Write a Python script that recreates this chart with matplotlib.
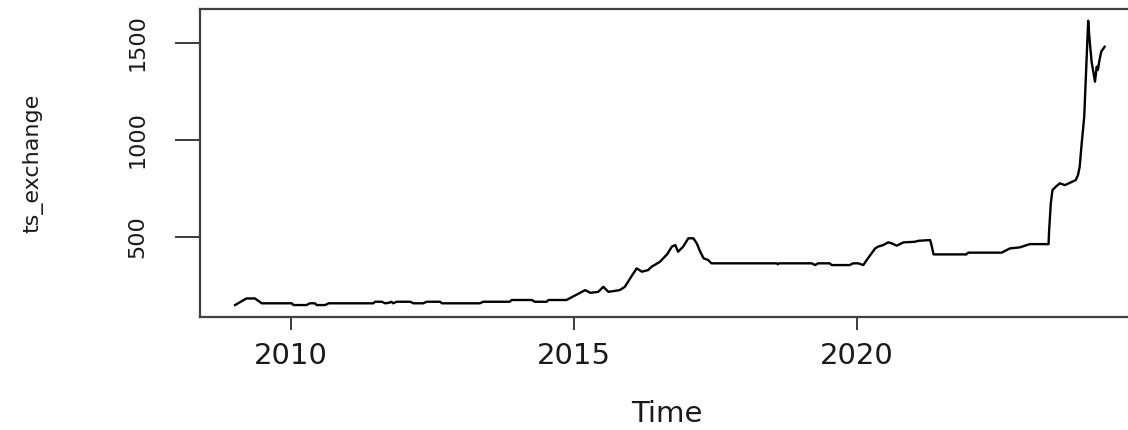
#! /usr/bin/env python

# imports of external packages to use in our code
import numpy as np
import matplotlib
matplotlib.use("Agg")
import matplotlib.pyplot as plt

# values (decimal year, exchange rate)
time = [2009.02, 2009.22, 2009.37, 2009.49, 2010.02, 2010.05, 2010.28, 2010.34,
        2010.43, 2010.46, 2010.61, 2010.67, 2011.46, 2011.49, 2011.61, 2011.67,
        2011.74, 2011.78, 2011.81, 2011.87, 2012.11, 2012.17, 2012.34, 2012.40,
        2012.64, 2012.67, 2013.34, 2013.40, 2013.87, 2013.90, 2014.26, 2014.31,
        2014.52, 2014.55, 2014.87, 2015.20, 2015.29, 2015.43, 2015.52, 2015.61,
        2015.81, 2015.90, 2016.05, 2016.11, 2016.20, 2016.31, 2016.37, 2016.52,
        2016.65, 2016.73, 2016.79, 2016.84, 2016.93, 2017.02, 2017.11, 2017.17,
        2017.23, 2017.29, 2017.37, 2017.43, 2018.58, 2018.60, 2018.62, 2019.20,
        2019.26, 2019.31, 2019.52, 2019.55, 2019.87, 2019.93, 2020.02, 2020.11,
        2020.17, 2020.32, 2020.37, 2020.46, 2020.55, 2020.61, 2020.70, 2020.82,
        2021.02, 2021.08, 2021.29, 2021.32, 2021.35, 2021.93, 2021.96, 2022.55,
        2022.70, 2022.87, 2023.05, 2023.38, 2023.39, 2023.42, 2023.45, 2023.52,
        2023.58, 2023.67, 2023.86, 2023.90, 2023.93, 2023.96, 2024.01, 2024.05,
        2024.08, 2024.10, 2024.14, 2024.20, 2024.23, 2024.25, 2024.28, 2024.31,
        2024.37]
ts_exchange = [148, 182, 182, 157, 157, 148, 148, 157,
               157, 148, 148, 157, 157, 165, 165, 157,
               160, 165, 157, 165, 165, 157, 157, 165,
               165, 157, 157, 165, 165, 174, 174, 165,
               165, 174, 174, 225, 211, 216, 242, 216,
               225, 242, 311, 337, 320, 328, 345, 371,
               411, 449, 457, 423, 449, 492, 492, 466,
               423, 389, 380, 363, 363, 358, 363, 363,
               354, 363, 363, 354, 354, 363, 363, 354,
               380, 440, 449, 457, 471, 466, 454, 471,
               474, 479, 483, 449, 409, 409, 418, 418,
               440, 445, 462, 462, 531, 672, 741, 761,
               775, 766, 792, 818, 861, 964, 1119, 1402,
               1613, 1531, 1402, 1299, 1376, 1359, 1411, 1454,
               1479]

x_ticks = [2010, 2015, 2020]
y_ticks = [500, 1000, 1500]

fig = plt.figure(figsize=(11.28, 4.30), dpi=100)
# axes box runs past the right edge, like the cropped reference
ax = fig.add_axes([0.1773, 0.2635, 0.8311, 0.7149])

ax.plot(time, ts_exchange, color='black', lw=1.7)

ax.set_xlim(2008.4, 2024.95)
ax.set_ylim(88, 1672)

for s in ax.spines.values():
    s.set_color('#404040')
    s.set_linewidth(1.6)

ax.set_xticks(x_ticks)
ax.set_xticklabels([str(t) for t in x_ticks], fontsize=21)
ax.set_yticks(y_ticks)
ax.set_yticklabels([str(t) for t in y_ticks], fontsize=16, rotation=90, va='center')
ax.tick_params(axis='x', length=9.5, width=1.2, pad=9, colors='#1a1a1a')
ax.tick_params(axis='y', length=18, width=1.2, pad=20, colors='#1a1a1a')

fig.text(667/1128, 1 - 414/430, 'Time', fontsize=21, ha='center', va='center',
         color='#1a1a1a')
fig.text(33/1128, 1 - 163/430, 'ts_exchange', fontsize=16, rotation=90,
         ha='center', va='center', color='#1a1a1a')

plt.savefig('out.png', dpi=100)
